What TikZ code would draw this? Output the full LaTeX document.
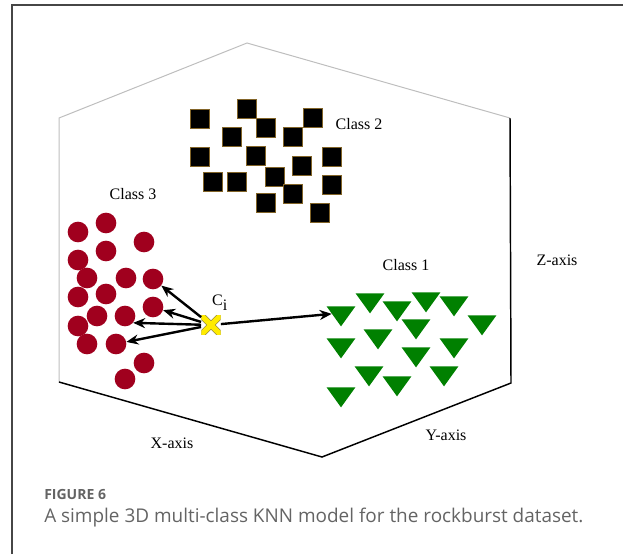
\documentclass[tikz,border=0pt]{standalone}
\usepackage{fontspec}
\setmainfont{Liberation Serif}
\newfontfamily\capfont{Open Sans}
\usepackage{tikz}
\usetikzlibrary{arrows.meta}
\usetikzlibrary{shapes.geometric}
\usepackage{xcolor}
\definecolor{classone}{RGB}{0,128,0}
\definecolor{classthree}{RGB}{160,0,30}
\definecolor{boxedge}{RGB}{130,100,40}
\definecolor{framegray}{RGB}{70,70,70}
\definecolor{hexgray}{RGB}{190,190,190}
\definecolor{captext}{RGB}{100,100,100}
\definecolor{xfill}{RGB}{255,235,0}
\definecolor{xedge}{RGB}{150,140,70}
\tikzset{
    dot/.style={
        circle,
        fill=classthree,
        minimum size=15.5pt,
        inner sep=0pt
    },
    box/.style={
        rectangle,
        fill=black,
        draw=boxedge,
        line width=0.5pt,
        minimum size=14pt,
        inner sep=0pt
    },
    tri/.style={
        regular polygon,
        regular polygon sides=3,
        shape border rotate=180,
        fill=classone,
        minimum size=25pt,
        inner sep=0pt,
        yscale=0.8
    },
    every edge/.style={
        draw,
        -{Stealth[length=9pt, width=7.5pt]},
        line width=1.8pt
    }
}

\begin{document}
\begin{tikzpicture}[
    x = 0.75pt,
    y = -0.75pt,
    axis label/.style = {font=\fontsize{12}{14}\selectfont},
    xmark/.style = {minimum size=14.5pt, inner sep=0pt,
        path picture={
            \draw[xedge, line width=5pt]
                (path picture bounding box.south west) -- (path picture bounding box.north east)
                (path picture bounding box.north west) -- (path picture bounding box.south east);
            \draw[xfill, line width=3.8pt]
                (path picture bounding box.south west) -- (path picture bounding box.north east)
                (path picture bounding box.north west) -- (path picture bounding box.south east);
        }}
]
\useasboundingbox (0,0) rectangle (623,554);

% Page frame
\draw[framegray, line width=1.2pt] (12,554) -- (12,5) -- (623,5);

% Hexagon outline of the feature space
\coordinate (top) at (247,43);
\coordinate (ur) at (510,118);
\coordinate (lr) at (511,383);
\coordinate (bot) at (322,457);
\coordinate (ll) at (59,382);
\coordinate (ul) at (59,118);
\draw[hexgray, line width=0.75pt] (ll) -- (ul) -- (top) -- (ur);
\draw[black, line width=1.1pt] (ur) -- (lr) -- (bot) -- (ll);

% Class 2 (squares)
\node[box] (s1) at (200,119) {};
\node[box] (s2) at (247,109) {};
\node[box] (s3) at (266,128) {};
\node[box] (s4) at (232,137) {};
\node[box] (s5) at (313,118) {};
\node[box] (s6) at (293,137) {};
\node[box] (s7) at (200,157) {};
\node[box] (s8) at (256,156) {};
\node[box] (s9) at (332,157) {};
\node[box] (s10) at (302,166) {};
\node[box] (s11) at (275,177) {};
\node[box] (s12) at (213,182) {};
\node[box] (s13) at (237,182) {};
\node[box] (s14) at (332,185) {};
\node[box] (s15) at (293,194) {};
\node[box] (s16) at (266,203) {};
\node[box] (s17) at (320,213) {};

% Class 3 (circles)
\node[dot] (c1) at (78,232) {};
\node[dot] (c2) at (106,223) {};
\node[dot] (c3) at (144,242) {};
\node[dot] (c4) at (106,251) {};
\node[dot] (c5) at (78,260) {};
\node[dot] (c6) at (87,278) {};
\node[dot] (c7) at (126,278) {};
\node[dot] (c8) at (153,279) {};
\node[dot] (c9) at (78,297) {};
\node[dot] (c10) at (106,294) {};
\node[dot] (c11) at (153,307) {};
\node[dot] (c12) at (97,316) {};
\node[dot] (c13) at (125,316) {};
\node[dot] (c14) at (78,326) {};
\node[dot] (c15) at (87,344) {};
\node[dot] (c16) at (116,344) {};
\node[dot] (c17) at (144,363) {};
\node[dot] (c18) at (125,379) {};

% Class 1 (triangles)
\node[tri] (t1) at (341,313) {};
\node[tri] (t2) at (370,300) {};
\node[tri] (t3) at (397,308) {};
\node[tri] (t4) at (426,299) {};
\node[tri] (t5) at (454,303) {};
\node[tri] (t6) at (482,322) {};
\node[tri] (t7) at (416,326) {};
\node[tri] (t8) at (341,345) {};
\node[tri] (t9) at (378,336) {};
\node[tri] (t10) at (454,345) {};
\node[tri] (t11) at (416,354) {};
\node[tri] (t12) at (369,373) {};
\node[tri] (t13) at (397,383) {};
\node[tri] (t14) at (444,373) {};
\node[tri] (t15) at (341,394) {};

% Query point and its neighbours
\node[xmark] (ci) at (211,325) {};
\node[axis label] (cilabel) at (220,303) {C\textsubscript{\large i}};
\path (ci) edge (c8);
\path (ci) edge (c11);
\path (ci) edge (c13.-40);
\path (ci) edge (c16);
\path (ci) edge (t1);

% Labels
\node[axis label] (class2) at (359,124) {Class 2};
\node[axis label] (class3) at (133,194) {Class 3};
\node[axis label] (class1) at (406,265) {Class 1};
\node[axis label] (zaxis) at (557,260) {Z-axis};
\node[axis label] (xaxis) at (172,443) {X-axis};
\node[axis label] (yaxis) at (446,435) {Y-axis};

% Caption
\node[anchor=west, inner sep=0pt, text=captext, font=\capfont\bfseries\fontsize{10.5}{12}\selectfont] (figno) at (44,494) {FIGURE 6};
\node[anchor=west, inner sep=0pt, text=captext, font=\capfont\fontsize{14.2}{17}\selectfont] (caption) at (44,518) {A simple 3D multi-class KNN model for the rockburst dataset.};
\end{tikzpicture}
\end{document}
